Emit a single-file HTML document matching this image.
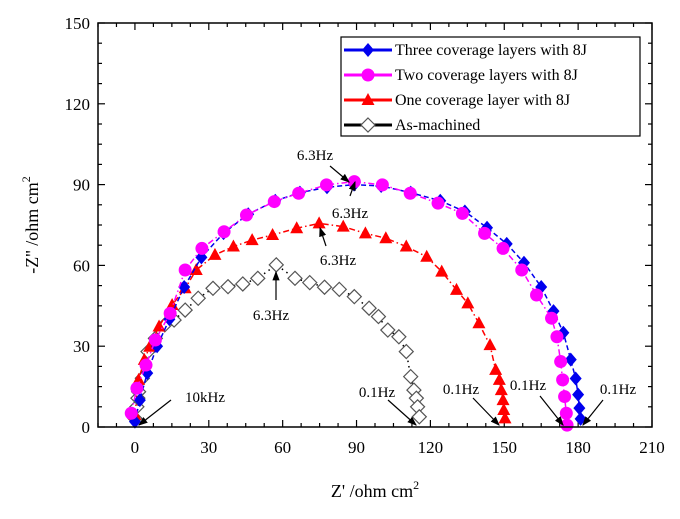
<!DOCTYPE html>
<html><head><meta charset="utf-8"><style>
body{margin:0;background:#fff}
svg{display:block;font-family:"Liberation Serif",serif}
</style></head><body>
<svg id="c" width="680" height="519" viewBox="0 0 680 519"></svg>
<script>
const xTicks=[0,30,60,90,120,150,180,210];
const yTicks=[0,30,60,90,120,150];
const seriesNames=["Three coverage layers with 8J","Two coverage layers with 8J","One coverage layer with 8J","As-machined"];
const threeX=[0,2,5,9,14,20,27,36,46,57,67,78,89,100,112,124,134,143,151,158,165,170,174,177,179,180,180.5,181];
const threeY=[2,10,20,30,40,52,63,72,79,84,87,89,90,89.5,87,84,80,74,68,61,52,43,35,25,18,12,7,3];
const twoX=[-1.5,0.8,4.5,8.3,14.3,20.4,27.2,36.2,45.3,56.6,66.5,77.8,89.1,100.5,111.8,123.1,133,142,149.5,157.1,163.1,169.2,171.4,172.9,173.7,174.5,175.2,175.5];
const twoY=[5.1,14.4,23,32.3,42.2,58.3,66.3,72.5,78.7,83.7,86.8,89.9,91.1,89.9,86.8,83.1,79.3,71.9,66.3,58.3,49,40.4,33.5,24.3,17.5,11.3,5.1,0.7];
const oneX=[0,1.5,3.8,6,9.8,15.1,20.4,24.9,32.5,40,47.6,55.9,65.7,74.8,84.6,93.6,101.9,110.2,118.5,124.6,130.6,135.2,139.7,144.2,146.5,148,148.8,149.5,149.8,150.3];
const oneY=[4.5,17.5,24.9,29.8,37.3,45.3,51.5,58.3,63.9,67,69.4,71.3,73.8,75.6,74.4,71.9,70.1,67,63.2,57.7,50.9,45.9,38.5,30.4,21.2,17.5,13.7,10,6.3,3.2];
const asX=[0,0.8,1.2,1.5,3,5.3,8.3,12.1,15.9,20.4,25.7,31.7,37.8,43.8,49.9,57.4,65,71,77,83,89.1,95.1,98.9,102.7,107.2,110.2,112,113.3,114.3,114.8,115.5];
const asY=[3.2,7.5,10.7,13.1,18.1,28,32.9,37.9,39.7,43.4,47.8,51.5,52.1,53.1,55.2,60.2,55.2,53.6,51.9,51.1,48.4,44.1,41,36,33.5,28,18.7,13.7,10.7,7.5,3.8];

const L=98,R=652,T=23,B=427,XMIN=-15,XMAX=210,YMAX=150;
const sx=v=>L+(v-XMIN)/(XMAX-XMIN)*(R-L);
const sy=v=>B-v/YMAX*(B-T);
const svg=document.getElementById('c');
const NS="http://www.w3.org/2000/svg";
function mk(tag,at,parent){const e=document.createElementNS(NS,tag);for(const k in at)e.setAttribute(k,at[k]);(parent||svg).appendChild(e);return e;}

for(let v=-15;v<=210;v+=7.5){const x=sx(v);const len=(v%30===0)?7:4;
 const t1=mk('line',{x1:x,y1:B,x2:x,y2:B-len,stroke:'#000','stroke-width':1.2});
 
 
 const t2=mk('line',{x1:x,y1:T,x2:x,y2:T+len,stroke:'#000','stroke-width':1.2});
 
 }
for(let v=0;v<=150;v+=7.5){const y=sy(v);const len=(v%30===0)?7:4;
 const t1=mk('line',{x1:L,y1:y,x2:L+len,y2:y,stroke:'#000','stroke-width':1.2});
 
 
 const t2=mk('line',{x1:R,y1:y,x2:R-len,y2:y,stroke:'#000','stroke-width':1.2});
 
 }
xTicks.forEach(v=>{const t=mk('text',{x:sx(v),y:B+26,'text-anchor':'middle','font-size':17});t.textContent=v;
 
 });
yTicks.forEach(v=>{const t=mk('text',{x:L-8,y:sy(v)+6,'text-anchor':'end','font-size':17});t.textContent=v;
 
 });

function marker(type,x,y,color,g){
 let e;
 if(type==='diamond')e=mk('polygon',{points:`${x},${y-7} ${x+6},${y} ${x},${y+7} ${x-6},${y}`,fill:color},g);
 else if(type==='circle')e=mk('circle',{cx:x,cy:y,r:6.5,fill:color},g);
 else if(type==='triangle')e=mk('polygon',{points:`${x},${y-7} ${x+6.5},${y+5} ${x-6.5},${y+5}`,fill:color},g);
 else e=mk('polygon',{points:`${x},${y-7} ${x+7},${y} ${x},${y+7} ${x-7},${y}`,fill:'#fff',stroke:'#555','stroke-width':1.2},g);
 return e;
}
const series=[
 {xs:asX,ys:asY,c:'#000',m:'open',d:'1.5,4',n:'series-as-machined'},
 {xs:oneX,ys:oneY,c:'#f00',m:'triangle',d:'6,3,1.5,3',n:'series-one-layer'},
 {xs:threeX,ys:threeY,c:'#0000ee',m:'diamond',d:'5,3',n:'series-three-layers'},
 {xs:twoX,ys:twoY,c:'#ff00ff',m:'circle',d:'6,3,1.5,3',n:'series-two-layers'}
];
series.forEach(s=>{
 const g=mk('g',{});
 
 
 const pts=s.xs.map((v,i)=>sx(v)+','+sy(s.ys[i])).join(' ');
 const pl=mk('polyline',{points:pts,fill:'none',stroke:s.c,'stroke-width':1.5,'stroke-dasharray':s.d},g);
 
 
 s.xs.forEach((v,i)=>{const p=marker(s.m,sx(v),sy(s.ys[i]),s.c,g);
  
  });
});
const fr=mk('rect',{x:L,y:T,width:R-L,height:B-T,fill:'none',stroke:'#000','stroke-width':1.5});



const lg=mk('g',{});


mk('rect',{x:341,y:37,width:299,height:99,fill:'#fff',stroke:'#000','stroke-width':1.2},lg);
const lc=['#0000ee','#ff00ff','#f00','#000'],lm=['diamond','circle','triangle','open'];
seriesNames.forEach((n,i)=>{const y=50+i*25;
 const e=mk('g',{},lg);
 
 
 mk('line',{x1:344,y1:y,x2:392,y2:y,stroke:lc[i],'stroke-width':3},e);
 marker(lm[i],368,y,lc[i],e);
 const t=mk('text',{x:395,y:y+5,'font-size':16},e);t.textContent=n;});

mk('defs',{}).innerHTML='<marker id="ah" markerWidth="8" markerHeight="8" refX="7" refY="4" orient="auto"><path d="M0,1 L8,4 L0,7 z" fill="#000"/></marker>';
const ann=[["6.3Hz",315,160,330,166,349,182],["6.3Hz",350,218,350,196,355,182],["6.3Hz",338,265,326,246,320,228],["6.3Hz",271,320,276,300,276,272],
["10kHz",205,402,171,400,139,425],["0.1Hz",377,397,388,400,416,425],["0.1Hz",461,394,473,398,499,425],["0.1Hz",528,390,540,396,563,425],["0.1Hz",618,394,603,400,583,425]];
ann.forEach(a=>{const t=mk('text',{x:a[1],y:a[2],'text-anchor':'middle','font-size':15});t.textContent=a[0];
 
 
 const l=mk('line',{x1:a[3],y1:a[4],x2:a[5],y2:a[6],stroke:'#000','stroke-width':1.2,'marker-end':'url(#ah)'});
 
 });

const xt=mk('text',{x:375,y:497,'text-anchor':'middle','font-size':18});xt.innerHTML="Z' /ohm cm<tspan dy='-8' font-size='12'>2</tspan>";


const yt=mk('text',{x:0,y:0,'text-anchor':'middle','font-size':18,transform:'translate(38,225) rotate(-90)'});yt.innerHTML="-Z'' /ohm cm<tspan dy='-8' font-size='12'>2</tspan>";


</script>
</body></html>
